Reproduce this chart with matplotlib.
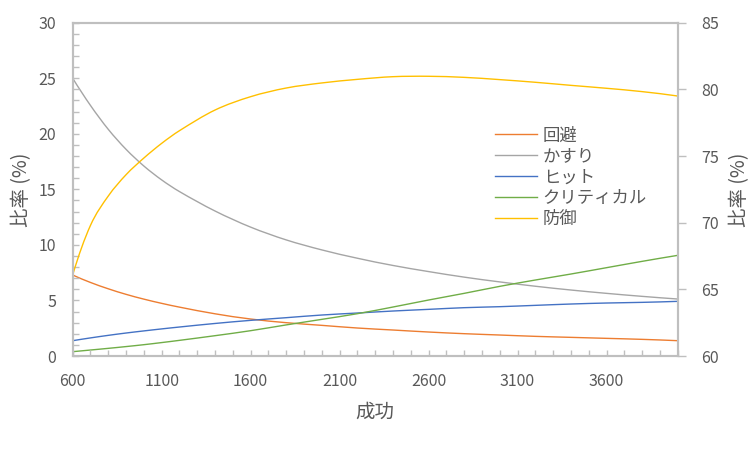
import numpy as np
import matplotlib
matplotlib.use("Agg")
import matplotlib.pyplot as plt
from matplotlib.ticker import MultipleLocator
from matplotlib.path import Path
from matplotlib.patches import PathPatch
from matplotlib.lines import Line2D

plt.rcParams['font.family'] = ['Noto Sans CJK JP', 'DejaVu Sans']

# x values (成功)
seiko = [600, 700, 800, 900, 1000, 1100, 1200, 1400, 1600, 1800, 2000, 2200,
         2400, 2600, 2800, 3000, 3200, 3400, 3600, 3800, 4000]

# left axis series (%)
kaihi = [7.29, 6.62, 6.05, 5.55, 5.12, 4.74, 4.40, 3.80, 3.33, 3.00, 2.76,
         2.52, 2.34, 2.16, 2.01, 1.89, 1.77, 1.68, 1.59, 1.50, 1.38]
kasuri = [25.0, 22.55, 20.4, 18.6, 17.1, 15.85, 14.8, 13.05, 11.6, 10.45, 9.55,
          8.8, 8.15, 7.6, 7.1, 6.67, 6.28, 5.94, 5.64, 5.37, 5.13]
hit = [1.38, 1.63, 1.86, 2.07, 2.26, 2.44, 2.61, 2.93, 3.21, 3.45, 3.69,
       3.87, 4.05, 4.20, 4.35, 4.44, 4.56, 4.68, 4.77, 4.83, 4.92]
critical = [0.39, 0.54, 0.69, 0.85, 1.02, 1.21, 1.41, 1.83, 2.28, 2.80, 3.30,
            3.81, 4.41, 5.04, 5.64, 6.27, 6.84, 7.38, 7.95, 8.52, 9.06]
# right axis series (%)
bougyo = [66.08, 69.8, 72.0, 73.6, 74.85, 75.95, 76.9, 78.45, 79.45, 80.1, 80.48,
          80.75, 80.95, 80.98, 80.9, 80.73, 80.53, 80.3, 80.08, 79.83, 79.5]

names = ['回避', 'かすり', 'ヒット', 'クリティカル', '防御']
colors = ['#ED7D31', '#A5A5A5', '#4472C4', '#70AD47', '#FFC000']
x_ticks = [600, 1100, 1600, 2100, 2600, 3100, 3600]

txt = '#595959'
edge = '#BFBFBF'


def smooth_line(a, xs, ys, col):
    # smoothed line like excel: cubic bezier segments through the points
    xs = np.asarray(xs, float)
    ys = np.asarray(ys, float)
    n = len(xs)
    d = np.diff(ys) / np.diff(xs)
    m = np.zeros(n)
    for i in range(1, n - 1):
        m[i] = (ys[i + 1] - ys[i - 1]) / (xs[i + 1] - xs[i - 1])
    m[0] = 2 * d[0] - m[1]
    m[-1] = 2 * d[-1] - m[-2]
    verts = [(xs[0], ys[0])]
    codes = [Path.MOVETO]
    for i in range(n - 1):
        h = xs[i + 1] - xs[i]
        verts += [(xs[i] + h / 3, ys[i] + m[i] * h / 3),
                  (xs[i + 1] - h / 3, ys[i + 1] - m[i + 1] * h / 3),
                  (xs[i + 1], ys[i + 1])]
        codes += [Path.CURVE4] * 3
    a.add_patch(PathPatch(Path(verts, codes), facecolor='none', edgecolor=col, lw=1.0))


fig = plt.figure(figsize=(7.51, 4.51), dpi=100)
ax = fig.add_axes([0.0968, 0.2106, 0.8056, 0.7391])
ax2 = ax.twinx()

for ys, col in zip([kaihi, kasuri, hit, critical], colors[:4]):
    smooth_line(ax, seiko, ys, col)
smooth_line(ax2, seiko, bougyo, colors[4])

ax.set_xlim(600, 4000)
ax.set_ylim(0, 30)
ax2.set_ylim(60, 85)

ax.set_xticks(x_ticks)
ax.xaxis.set_minor_locator(MultipleLocator(100))
ax.yaxis.set_major_locator(MultipleLocator(5))
ax.yaxis.set_minor_locator(MultipleLocator(1))
ax2.yaxis.set_major_locator(MultipleLocator(5))

ax.tick_params(axis='x', which='both', direction='in', length=4, width=1, color=edge,
               labelsize=11.5, labelcolor=txt, pad=12)
ax.tick_params(axis='y', which='both', direction='in', length=4, width=1, color=edge,
               labelsize=11.5, labelcolor=txt, pad=12)
ax2.tick_params(axis='y', which='major', direction='out', length=6, width=1, color=edge,
                labelsize=11.5, labelcolor=txt, pad=11)
ax2.tick_params(axis='y', which='minor', length=0)

for a in (ax, ax2):
    for sp in a.spines.values():
        sp.set_color(edge)
        sp.set_linewidth(1.5)

ax.set_xlabel('成功', fontsize=14, color=txt, labelpad=9)
ax.set_ylabel('比率 (%)', fontsize=14, color=txt, labelpad=4)
ax2.set_ylabel('比率 (%)', fontsize=14, color=txt, labelpad=7)

handles = [Line2D([], [], color=c, lw=1.0) for c in colors]
leg = fig.legend(handles=handles, labels=names, loc='upper left',
                 bbox_to_anchor=(495 / 751, 1 - 126.5 / 451), frameon=False,
                 fontsize=12.5, handlelength=2.4, handletextpad=0.35,
                 labelspacing=0.17, borderpad=0, borderaxespad=0)
for t in leg.get_texts():
    t.set_color(txt)

fig.savefig('out.png', dpi=100)
